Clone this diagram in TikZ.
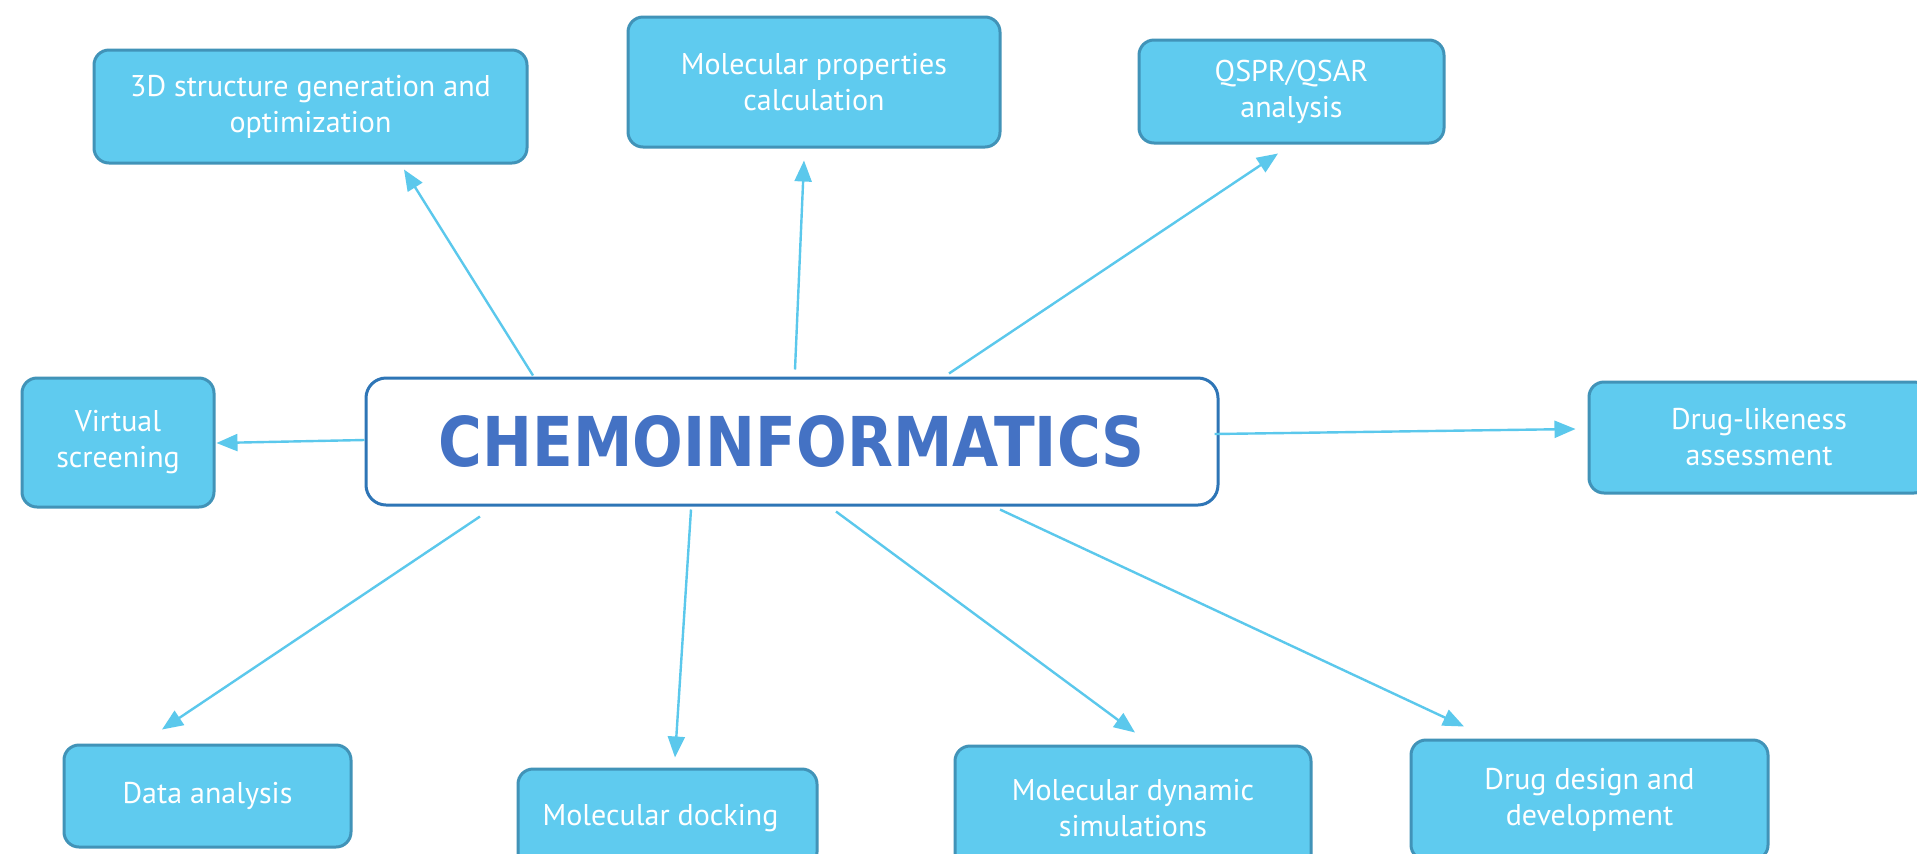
\documentclass[tikz,border=0pt]{standalone}
\usepackage{fontspec}
\setmainfont{PT Sans}
\newfontfamily\titlefont{DejaVu Sans}
\usetikzlibrary{arrows.meta,calc}
\definecolor{boxfill}{HTML}{5FCBEF}
\definecolor{boxline}{HTML}{4193B8}
\definecolor{arrowc}{HTML}{5BC8EC}
\definecolor{hubline}{HTML}{2E75B6}
\definecolor{hubtext}{HTML}{4472C4}
\tikzset{
  topic/.style={draw=boxline, line width=1.5pt, fill=boxfill, rounded corners=7.5pt,
    text=white, align=center, inner sep=0pt,
    font=\fontsize{15pt}{18pt}\selectfont},
  hub/.style={draw=hubline, line width=1.5pt, fill=white, rounded corners=10pt,
    inner sep=0pt, text=hubtext},
  link/.style={draw=arrowc, line width=1.2pt, -{Triangle[length=10.5pt,width=8.5pt]}}
}
\begin{document}
\begin{tikzpicture}[x=0.5pt, y=-0.5pt]
\clip (0,0) rectangle (1917,853);
\fill[white] (0,0) rectangle (1917,853);

% central hub
\node[hub, minimum width=426pt, minimum height=63.5pt] (c) at (792,441.5)
  {\titlefont\bfseries\resizebox{353pt}{25.5pt}{CHEMOINFORMATICS}};

% surrounding topics
\node[topic, minimum width=216.5pt, minimum height=56.5pt] (td) at (310.5,106.5)
  {3D structure generation and\\optimization};
\node[topic, minimum width=186pt, minimum height=65pt] (mp) at (814,82)
  {Molecular properties\\calculation};
\node[topic, minimum width=152.5pt, minimum height=51.5pt] (qs) at (1291.5,91.5)
  {QSPR/QSAR\\analysis};
\node[topic, minimum width=96pt, minimum height=64.5pt] (vs) at (118,442.5)
  {Virtual\\screening};
\node[topic, minimum width=170pt, minimum height=55.5pt] (dl) at (1759,437.5)
  {Drug-likeness\\assessment};
\node[topic, minimum width=143.5pt, minimum height=51pt] (da) at (207.5,796)
  {Data analysis};
\node[topic, minimum width=149.5pt, minimum height=49pt] (dk) at (667.5,818)
  {\hspace*{-7pt}Molecular docking};
\node[topic, minimum width=178pt, minimum height=62pt] (ms) at (1133,808)
  {Molecular dynamic\\simulations};
\node[topic, minimum width=178.5pt, minimum height=60pt] (dd) at (1589.5,800)
  {Drug design and\\development};

% connectors from the hub
\draw[link] ($(c.north)+(-259,-1)$) -- ($(td.south)+(93.5,5)$);
\draw[link] ($(c.north)+(3,-7)$) -- ($(mp.south)+(-10,12)$);
\draw[link] ($(c.north)+(157,-3)$) -- ($(qs.south)+(-13.5,9)$);
\draw[link] ($(c.west)+(0,-1.5)$) -- ($(vs.east)+(1,0.5)$);
\draw[link] ($(c.east)+(-5,-7.5)$) -- ($(dl.west)+(-12,-8.5)$);
\draw[link] ($(c.south)+(-312,10)$) -- ($(da.north)+(-45.5,-14)$);
\draw[link] ($(c.south)+(-101,3)$) -- ($(dk.north)+(7.5,-10)$);
\draw[link] ($(c.south)+(44,5)$) -- ($(ms.north)+(2,-12)$);
\draw[link] ($(c.south)+(208,3)$) -- ($(dd.north)+(-125.5,-12)$);
\end{tikzpicture}
\end{document}
